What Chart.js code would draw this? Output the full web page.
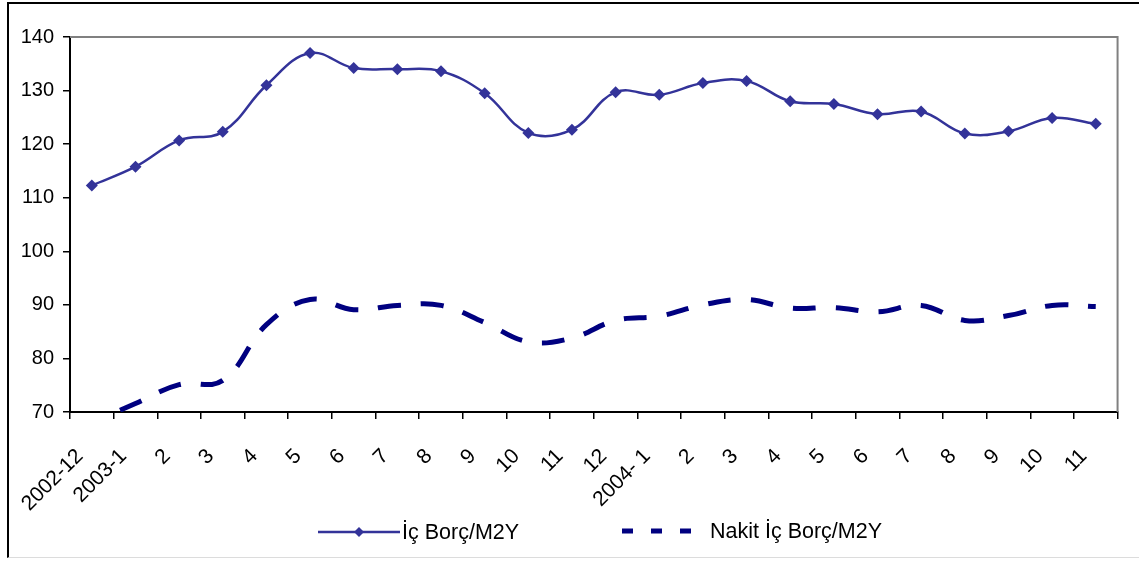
<!DOCTYPE html>
<html><head><meta charset="utf-8">
<script src="https://cdn.jsdelivr.net/npm/chart.js@4.4.1/dist/chart.umd.min.js"></script>
<style>
html,body{margin:0;padding:0;background:#fff;}
#wrap{position:relative;width:1139px;height:561px;overflow:hidden;background:#fff;}
#frame{position:absolute;left:7px;top:2px;width:1150px;height:556px;border-left:2px solid #000;border-top:2px solid #000;border-bottom:1px solid #dcdcdc;box-sizing:border-box;}
canvas{position:absolute;left:0;top:0;}
</style></head><body>
<div id="wrap"><div id="frame"></div><canvas id="c" width="1139" height="561"></canvas></div>
<script>
// Categories (months)
const categories = ['2002-12','2003-1','2','3','4','5','6','7','8','9','10','11','12','2004- 1','2','3','4','5','6','7','8','9','10','11'];
// Series values
const icBorcM2Y = [112.3,115.8,120.7,122.3,131.0,137.0,134.2,134.0,133.6,129.5,122.1,122.7,129.7,129.2,131.4,131.8,128.0,127.5,125.6,126.1,122.0,122.4,124.9,123.8];
const nakitIcBorcM2Y = [68.0,71.6,75.1,75.9,86.3,91.0,89.1,89.9,89.9,86.7,83.1,83.8,87.1,87.9,90.0,91.0,89.4,89.5,88.7,89.9,87.1,88.0,89.9,89.7];
// Value axis ticks
const yMin = 70, yMax = 140, yStep = 10;
const seriesNames = ['İç Borç/M2Y','Nakit İç Borç/M2Y'];

const FONT = 'Liberation Sans';

const plotFrame = {
  id:'plotFrame',
  beforeDatasetsDraw(chart){
    const {ctx, chartArea:a} = chart;
    ctx.save();
    ctx.strokeStyle = '#808080';
    ctx.lineWidth = 2;
    ctx.beginPath();
    ctx.moveTo(a.left, a.top);
    ctx.lineTo(a.right, a.top);
    ctx.lineTo(a.right, a.bottom);
    ctx.stroke();
    ctx.restore();
  }
};

const customLegend = {
  id:'customLegend',
  afterDraw(chart){
    const ctx = chart.ctx;
    const ds = chart.data.datasets;
    ctx.save();
    ctx.font = '21.5px "' + FONT + '"';
    ctx.textBaseline = 'middle';
    ctx.fillStyle = '#000';
    // item 1: solid line with diamond
    let y = 532;
    ctx.strokeStyle = ds[0].borderColor;
    ctx.lineWidth = ds[0].borderWidth;
    ctx.beginPath(); ctx.moveTo(318, y); ctx.lineTo(400, y); ctx.stroke();
    ctx.fillStyle = ds[0].borderColor;
    const r = 5;
    ctx.beginPath(); ctx.moveTo(359, y-r); ctx.lineTo(359+r, y); ctx.lineTo(359, y+r); ctx.lineTo(359-r, y); ctx.closePath(); ctx.fill();
    ctx.fillStyle = '#000';
    ctx.fillText(ds[0].label, 402, y+1);
    // item 2: dashed
    y = 531;
    ctx.strokeStyle = ds[1].borderColor;
    ctx.lineWidth = ds[1].borderWidth;
    ctx.setLineDash([11, 18]);
    ctx.beginPath(); ctx.moveTo(622, y); ctx.lineTo(693, y); ctx.stroke();
    ctx.setLineDash([]);
    ctx.fillText(ds[1].label, 710, y+1);
    ctx.restore();
  }
};

new Chart(document.getElementById('c'), {
  type:'line',
  data:{
    labels:categories,
    datasets:[
      {label:seriesNames[0], data:icBorcM2Y, borderColor:'#333399', backgroundColor:'#333399',
       borderWidth:2.5, pointStyle:'rectRot', pointRadius:6, pointHoverRadius:6, pointBorderWidth:0,
       tension:0.4, fill:false},
      {label:seriesNames[1], data:nakitIcBorcM2Y, borderColor:'#000080', backgroundColor:'#000080',
       borderWidth:5, borderDash:[23,20], borderDashOffset:12, borderCapStyle:'butt',
       pointRadius:0, pointHoverRadius:0, tension:0.4, fill:false, clip:0}
    ]
  },
  options:{
    responsive:false, animation:false, devicePixelRatio:1,
    layout:{padding:{left:8, top:37, right:21, bottom:49}},
    plugins:{legend:{display:false}, tooltip:{enabled:false}},
    scales:{
      x:{
        offset:true,
        grid:{display:true, offset:true, drawOnChartArea:false, drawTicks:true, tickLength:7, color:'#000', lineWidth:1.5},
        border:{display:true, color:'#000', width:2},
        ticks:{autoSkip:false, minRotation:45, maxRotation:45, labelOffset:-12, padding:25, color:'#000',
               font:{family:FONT, size:21}},
        afterFit(s){ s.height = 100; }
      },
      y:{
        min:yMin, max:yMax,
        grid:{display:true, drawOnChartArea:false, drawTicks:true, tickLength:7, color:'#000', lineWidth:1.5},
        border:{display:true, color:'#000', width:2},
        ticks:{stepSize:yStep, padding:9, color:'#000', font:{family:FONT, size:20}},
        afterFit(s){ s.width = 62; }
      }
    }
  },
  plugins:[plotFrame, customLegend]
});
</script>
</body></html>
